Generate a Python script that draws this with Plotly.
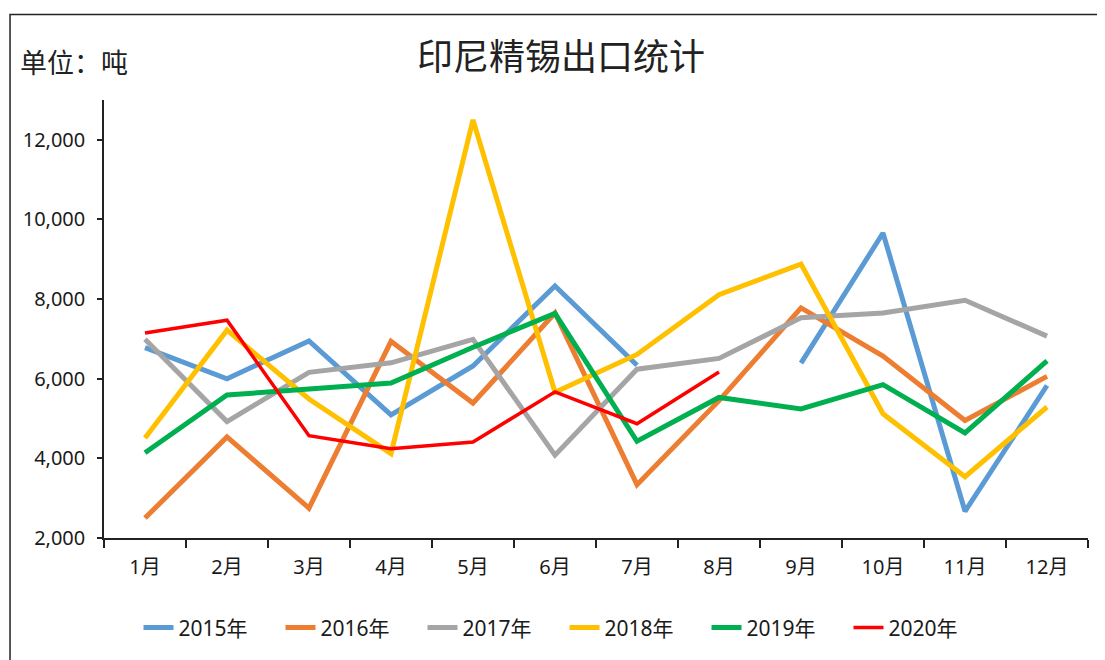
import plotly.graph_objects as go

months = ["1月", "2月", "3月", "4月", "5月", "6月", "7月", "8月", "9月", "10月", "11月", "12月"]
y2015 = [6780, 6000, 6950, 5090, 6320, 8330, 6340, None, 6390, 9660, 2670, 5830]
y2016 = [2500, 4540, 2750, 6940, 5390, 7650, 3340, 5450, 7780, 6570, 4950, 6060]
y2017 = [6990, 4925, 6160, 6400, 6990, 4080, 6240, 6510, 7530, 7650, 7970, 7070]
y2018 = [4510, 7220, 5490, 4120, 12500, 5660, 6610, 8110, 8880, 5120, 3540, 5290]
y2019 = [4140, 5590, 5740, 5890, 6790, 7640, 4430, 5530, 5240, 5850, 4640, 6450]
y2020 = [7150, 7470, 4570, 4240, 4410, 5670, 4870, 6170]

series = [
    ("2015年", y2015, "#5B9BD5", 5),
    ("2016年", y2016, "#ED7D31", 5),
    ("2017年", y2017, "#A5A5A5", 5),
    ("2018年", y2018, "#FFC000", 5),
    ("2019年", y2019, "#00B050", 5),
    ("2020年", y2020, "#FF0000", 3.5),
]

font_main = "Noto Sans, Noto Sans CJK SC, sans-serif"

fig = go.Figure()
for name, vals, color, w in series:
    fig.add_trace(go.Scatter(
        x=months[:len(vals)], y=vals, name=name, mode="lines",
        line=dict(color=color, width=w), connectgaps=False,
    ))

fig.update_layout(
    width=1097, height=652,
    margin=dict(l=96, r=17, t=92, b=120),
    paper_bgcolor="white", plot_bgcolor="white",
    font=dict(family=font_main, size=20, color="#1a1a1a"),
    title=dict(text="印尼精锡出口统计", x=0.504, xanchor="center", y=0.925, yanchor="middle",
               font=dict(family="Noto Sans CJK SC, sans-serif", size=36, color="#222")),
    showlegend=True,
    legend=dict(orientation="h", x=0.468, xanchor="center", y=-0.205, yanchor="middle",
                font=dict(family=font_main, size=21, color="#1a1a1a"),
                itemwidth=30, entrywidth=97, tracegroupgap=0),
    xaxis=dict(
        type="category", categoryorder="array", categoryarray=months,
        range=[-0.5, 11.5], showline=True, linecolor="#222", linewidth=1.5,
        ticks="outside", tickson="boundaries", ticklen=8, tickcolor="#222", tickwidth=1.5,
        showgrid=False, tickfont=dict(size=20, family=font_main), zeroline=False,
        ticklabelstandoff=10,
    ),
    yaxis=dict(
        range=[2000, 13000], tickvals=[2000, 4000, 6000, 8000, 10000, 12000],
        tickformat=",d", showline=True, linecolor="#222", linewidth=1.5,
        ticks="outside", ticklen=5, tickcolor="#222", tickwidth=1.5,
        showgrid=False, zeroline=False, tickfont=dict(size=20, family=font_main),
        ticklabelstandoff=8,
    ),
    annotations=[dict(text="单位：吨", xref="paper", yref="paper",
                      x=-0.0874, y=1.088, xanchor="left", yanchor="middle", showarrow=False,
                      font=dict(family="Noto Sans CJK SC, sans-serif", size=27, color="#222"))],
    shapes=[dict(type="rect", xref="paper", yref="paper",
                 x0=-0.0955, x1=1.03, y0=-0.3, y1=1.195,
                 line=dict(color="#222", width=1.5), layer="below")],
)

fig.write_html("out.html")
